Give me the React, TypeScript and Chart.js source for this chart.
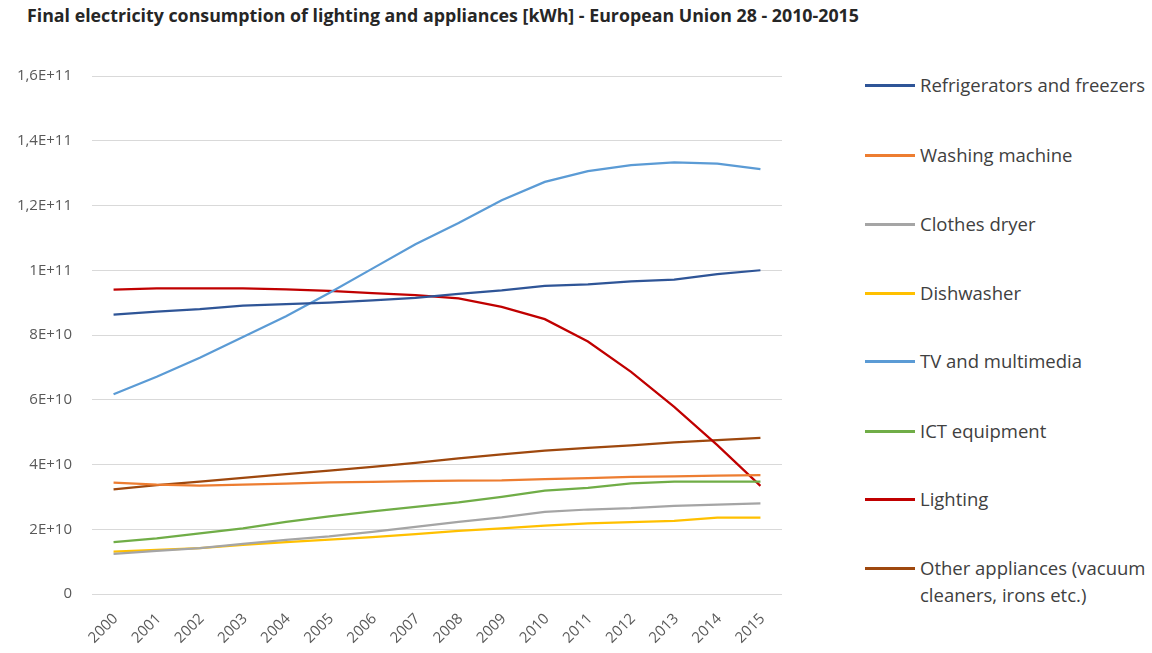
import React, { useEffect, useRef } from "react";
import { Chart, registerables } from "chart.js";

Chart.register(...registerables);

const title =
  "Final electricity consumption of lighting and appliances [kWh] - European Union 28 - 2010-2015";

const years = ["2000", "2001", "2002", "2003", "2004", "2005", "2006", "2007", "2008", "2009", "2010", "2011", "2012", "2013", "2014", "2015"];

const refrigerators = [8.63e10, 8.72e10, 8.8e10, 8.91e10, 8.95e10, 9.0e10, 9.07e10, 9.15e10, 9.27e10, 9.38e10, 9.52e10, 9.56e10, 9.66e10, 9.71e10, 9.88e10, 10.0e10];
const washingMachine = [3.44e10, 3.38e10, 3.35e10, 3.38e10, 3.41e10, 3.45e10, 3.46e10, 3.49e10, 3.5e10, 3.51e10, 3.55e10, 3.58e10, 3.62e10, 3.63e10, 3.66e10, 3.67e10];
const clothesDryer = [1.24e10, 1.33e10, 1.42e10, 1.55e10, 1.67e10, 1.78e10, 1.92e10, 2.07e10, 2.23e10, 2.37e10, 2.54e10, 2.61e10, 2.65e10, 2.72e10, 2.76e10, 2.8e10];
const dishwasher = [1.31e10, 1.36e10, 1.42e10, 1.52e10, 1.6e10, 1.68e10, 1.76e10, 1.85e10, 1.95e10, 2.03e10, 2.11e10, 2.18e10, 2.22e10, 2.26e10, 2.36e10, 2.36e10];
const tvMultimedia = [6.17e10, 6.71e10, 7.3e10, 7.94e10, 8.58e10, 9.3e10, 10.05e10, 10.8e10, 11.46e10, 12.16e10, 12.73e10, 13.06e10, 13.25e10, 13.33e10, 13.29e10, 13.12e10];
const ictEquipment = [1.6e10, 1.72e10, 1.87e10, 2.03e10, 2.23e10, 2.4e10, 2.55e10, 2.69e10, 2.83e10, 3.0e10, 3.19e10, 3.28e10, 3.42e10, 3.47e10, 3.47e10, 3.47e10];
const lighting = [9.4e10, 9.44e10, 9.44e10, 9.44e10, 9.41e10, 9.36e10, 9.29e10, 9.23e10, 9.13e10, 8.87e10, 8.49e10, 7.8e10, 6.86e10, 5.78e10, 4.6e10, 3.34e10];
const otherAppliances = [3.23e10, 3.36e10, 3.47e10, 3.59e10, 3.7e10, 3.81e10, 3.93e10, 4.05e10, 4.19e10, 4.31e10, 4.43e10, 4.51e10, 4.59e10, 4.68e10, 4.75e10, 4.82e10];

const seriesNames = [
  "Refrigerators and freezers",
  "Washing machine",
  "Clothes dryer",
  "Dishwasher",
  "TV and multimedia",
  "ICT equipment",
  "Lighting",
  "Other appliances (vacuum cleaners, irons etc.)",
];
const seriesValues = [refrigerators, washingMachine, clothesDryer, dishwasher, tvMultimedia, ictEquipment, lighting, otherAppliances];
const seriesColors = ["#2F5597", "#ED7D31", "#A5A5A5", "#FFC000", "#5B9BD5", "#70AD47", "#C00000", "#9E480E"];

const yTickLabels = ["0", "2E+10", "4E+10", "6E+10", "8E+10", "1E+11", "1,2E+11", "1,4E+11", "1,6E+11"];

const FONT = "'Open Sans', 'DejaVu Sans', sans-serif";

export default function App() {
  const ref = useRef<HTMLCanvasElement | null>(null);

  useEffect(() => {
    document.body.style.margin = "0";
    const canvas = ref.current;
    if (!canvas) return;
    const chart = new Chart(canvas, {
      type: "line",
      data: {
        labels: years,
        datasets: seriesNames.map((name, i) => ({
          label: name,
          data: seriesValues[i],
          borderColor: seriesColors[i],
          backgroundColor: seriesColors[i],
          borderWidth: 2.25,
          pointRadius: 0,
          tension: 0,
          fill: false,
        })),
      },
      options: {
        animation: false,
        responsive: false,
        devicePixelRatio: 1,
        layout: { padding: { top: 76, right: 18, bottom: 0, left: 0 } },
        plugins: {
          legend: { display: false },
          title: { display: false },
          tooltip: { enabled: false },
        },
        scales: {
          x: {
            offset: true,
            grid: { display: false },
            border: { display: false },
            ticks: {
              minRotation: 45,
              maxRotation: 45,
              color: "#595959",
              font: { family: FONT, size: 15 },
              padding: 8,
              labelOffset: 2,
            },
            afterFit: (s: any) => {
              s.height = 59;
            },
          },
          y: {
            min: 0,
            max: 1.6e11,
            ticks: {
              stepSize: 2e10,
              color: "#595959",
              font: { family: FONT, size: 15 },
              padding: 20,
              callback: (v: any) => yTickLabels[Math.round(Number(v) / 2e10)],
            },
            grid: { color: "#D9D9D9", lineWidth: 1, drawTicks: false },
            border: { display: false },
            afterFit: (s: any) => {
              s.width = 92;
            },
          },
        },
      },
    });
    return () => chart.destroy();
  }, []);

  const legendTops = [85, 155, 224, 293, 361, 431, 499, 568];

  return (
    <div style={{ position: "relative", width: 1152, height: 653, background: "#fff", overflow: "hidden" }}>
      <div
        style={{
          position: "absolute",
          left: 27,
          top: 3,
          fontFamily: FONT,
          fontWeight: 700,
          fontSize: 17.8,
          color: "#262626",
          whiteSpace: "nowrap",
        }}
      >
        {title}
      </div>
      <canvas ref={ref} width={800} height={653} style={{ position: "absolute", left: 0, top: 0 }} />
      {seriesNames.map((name, i) => (
        <div key={name}>
          <div
            style={{
              position: "absolute",
              left: 865,
              top: legendTops[i] - 1,
              width: 50,
              height: 2.5,
              background: seriesColors[i],
            }}
          />
          <div
            style={{
              position: "absolute",
              left: 920,
              top: legendTops[i] - 14,
              width: 240,
              fontFamily: FONT,
              fontSize: 18.5,
              lineHeight: "27px",
              color: "#404040",
            }}
          >
            {name}
          </div>
        </div>
      ))}
    </div>
  );
}
